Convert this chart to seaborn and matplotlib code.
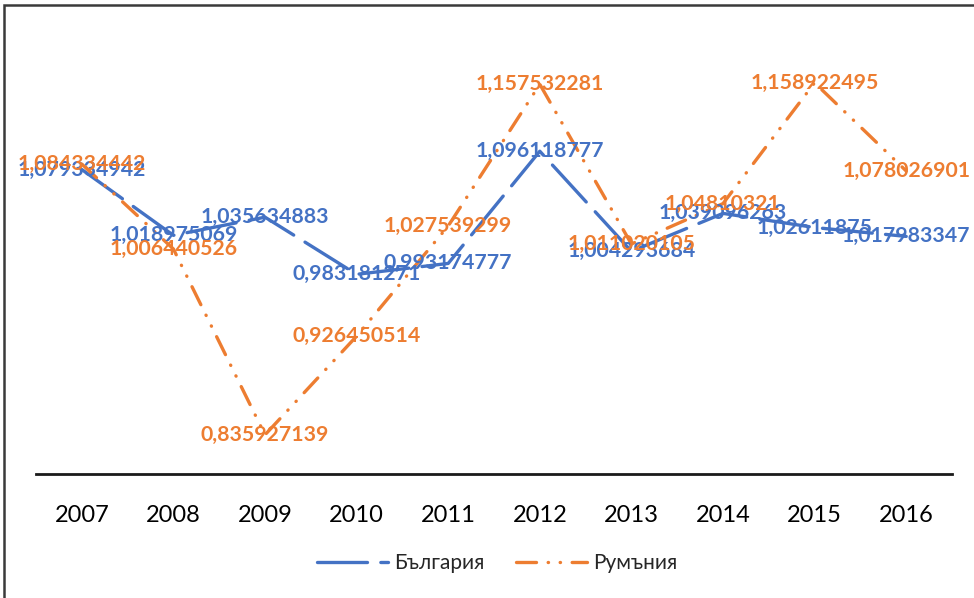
import pandas as pd
import matplotlib.pyplot as plt
import matplotlib.patches as mpatches
import seaborn as sns

# Данни
years = [2007, 2008, 2009, 2010, 2011, 2012, 2013, 2014, 2015, 2016]
bulgaria = [1.079334942, 1.018975069, 1.035634883, 0.983181271, 0.993174777,
            1.096118777, 1.004293684, 1.039096263, 1.02611875, 1.017983347]
romania = [1.084334442, 1.006440526, 0.835927139, 0.926450514, 1.027539299,
           1.157532281, 1.011020105, 1.04810321, 1.158922495, 1.078026901]
series_names = ["България", "Румъния"]

df = pd.concat([
    pd.DataFrame({"Година": years, "Стойност": bulgaria, "Страна": series_names[0]}),
    pd.DataFrame({"Година": years, "Стойност": romania, "Страна": series_names[1]}),
])

sns.set_theme(style="white")
plt.rcParams["font.family"] = ["Lato", "DejaVu Sans"]

colors = {"България": "#4472C4", "Румъния": "#ED7D31"}
dashes = {"България": (15, 4), "Румъния": (6, 3.5, 0.1, 3.5, 0.1, 3.5)}

fig = plt.figure(figsize=(9.74, 5.98), dpi=100)
ax = fig.add_axes([36 / 974, 1 - 474 / 598, 916 / 974, (474 - 38) / 598])

sns.lineplot(data=df, x="Година", y="Стойност", hue="Страна", style="Страна",
             palette=colors, dashes=dashes, linewidth=2.4, ax=ax,
             dash_capstyle="round", zorder=2)

# Етикети на данните
for name, vals in zip(series_names, [bulgaria, romania]):
    for x, v in zip(years, vals):
        ax.text(x, v, f"{v:.10g}".replace(".", ","), ha="center", va="center",
                color=colors[name], fontsize=15.3, fontweight="bold", zorder=3)

ax.set_xlim(years[0] - 0.5, years[-1] + 0.5)
ax.set_ylim(0.8, 1.2)
ax.set_xticks(years)
ax.set_xticklabels([str(y) for y in years], fontsize=17, color="black")
ax.set_yticks([])
ax.tick_params(axis="x", length=0, pad=22)
ax.set_xlabel("")
ax.set_ylabel("")
for s in ["top", "right", "left"]:
    ax.spines[s].set_visible(False)
ax.spines["bottom"].set_color("#1a1a1a")
ax.spines["bottom"].set_linewidth(2)

handles, labels = ax.get_legend_handles_labels()
ax.legend_.remove()
fig.legend(handles, labels, loc="center", bbox_to_anchor=(497 / 974, 1 - 563 / 598),
           ncol=2, frameon=False, fontsize=15, handlelength=3.4, columnspacing=1.5,
           handletextpad=0.3)

# Рамка
fig.patches.append(mpatches.Rectangle((4 / 974, -0.2), 2, 1.2 - 5 / 598,
                                      transform=fig.transFigure, fill=False,
                                      edgecolor="#3a3a3a", linewidth=1.8))

plt.savefig("out.png", dpi=100)
plt.close()
